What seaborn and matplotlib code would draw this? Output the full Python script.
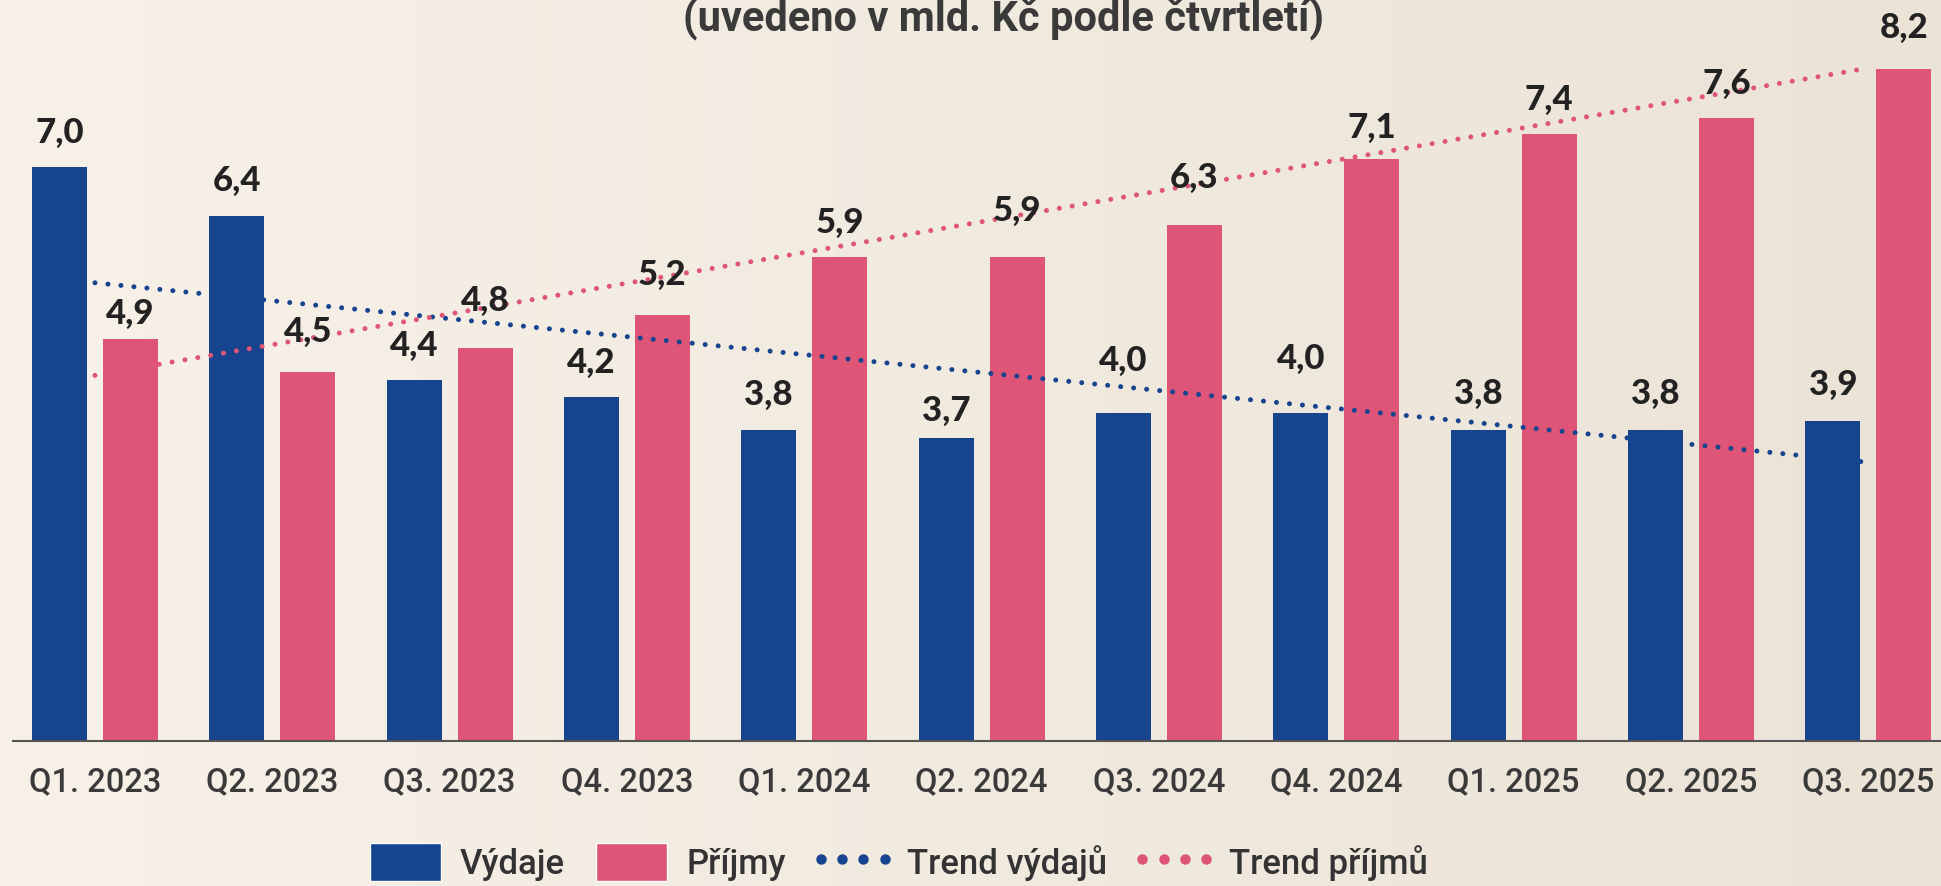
import numpy as np
import pandas as pd
import matplotlib.pyplot as plt
import seaborn as sns
from matplotlib.lines import Line2D
from matplotlib.patches import Patch
from matplotlib.legend_handler import HandlerLine2D
from matplotlib.colors import LinearSegmentedColormap

kvartaly = ["Q1. 2023", "Q2. 2023", "Q3. 2023", "Q4. 2023", "Q1. 2024", "Q2. 2024",
            "Q3. 2024", "Q4. 2024", "Q1. 2025", "Q2. 2025", "Q3. 2025"]
vydaje = [7.0, 6.4, 4.4, 4.2, 3.8, 3.7, 4.0, 4.0, 3.8, 3.8, 3.9]
prijmy = [4.9, 4.5, 4.8, 5.2, 5.9, 5.9, 6.3, 7.1, 7.4, 7.6, 8.2]
# trend lines (first and last quarter)
trend_vydaju = [5.59, 3.40]
trend_prijmu = [4.46, 8.21]

# label gap above each bar (pt), labels are nudged off the trend lines in the original
odsazeni_vydaje = [13, 14, 13, 13, 13, 8, 26, 27.5, 14, 14, 15]
odsazeni_prijmy = [7, 17.5, 22, 17, 13, 22, 22, 11, 13, 13, 18]

MODRA = "#17448e"
RUZOVA = "#de5577"
TEXT = "#333333"

sns.set_style("white")
plt.rcParams['font.family'] = ['Roboto', 'DejaVu Sans']

df = pd.DataFrame({
    "kvartal": kvartaly * 2,
    "hodnota": vydaje + prijmy,
    "rada": ["Výdaje"] * len(vydaje) + ["Příjmy"] * len(prijmy),
})

fig = plt.figure(figsize=(19.41, 8.86), dpi=100)

# beige background, slightly darker to the right
bg = fig.add_axes([0, 0, 1, 1], zorder=-10)
bg.imshow(np.linspace(0, 1, 256).reshape(1, -1), aspect='auto', extent=[0, 1, 0, 1],
          cmap=LinearSegmentedColormap.from_list('bg', ['#f7f1e8', '#ebe3d6']))
bg.axis('off')

ax = fig.add_axes([13 / 1941, 145 / 886, 1 - 13 / 1941, 741 / 886])
ax.set_facecolor('none')

sns.barplot(data=df, x="kvartal", y="hodnota", hue="rada", palette=[MODRA, RUZOVA],
            saturation=1, width=0.8, gap=0.225, errorbar=None, legend=False,
            linewidth=0, ax=ax)

# trends over the bars
konce = [0, len(kvartaly) - 1]
ax.plot(konce, trend_vydaju, color=MODRA, lw=3.6, ls=(0, (0.01, 2.6)),
        dash_capstyle='round', zorder=5)
ax.plot(konce, trend_prijmu, color=RUZOVA, lw=3.6, ls=(0, (0.01, 2.6)),
        dash_capstyle='round', zorder=5)

for cont, vals, pads in zip(ax.containers, [vydaje, prijmy], [odsazeni_vydaje, odsazeni_prijmy]):
    for bar, v, p in zip(cont, vals, pads):
        ax.annotate(f"{v:.1f}".replace(".", ","),
                    (bar.get_x() + bar.get_width() / 2, bar.get_height()),
                    xytext=(0, p), textcoords='offset points', ha='center', va='bottom',
                    fontsize=25, fontweight='black', color='#222222', family='Lato', zorder=6)

ax.set_xlim(-0.462, 10.41)
ax.set_ylim(0, 9.04)
ax.set_yticks([])
ax.set_xlabel("")
ax.set_ylabel("")
for s in ["left", "top", "right"]:
    ax.spines[s].set_visible(False)
ax.spines["bottom"].set_color("#555555")
ax.spines["bottom"].set_linewidth(1.5)
ax.tick_params(axis='x', length=0, pad=18, labelsize=23.5, labelcolor='#3a3a3a')
for t in ax.get_xticklabels():
    t.set_fontweight('medium')

fig.text(0.517, 0.964, "(uvedeno v mld. Kč podle čtvrtletí)", ha='center', va='baseline',
         fontsize=30, fontweight='bold', color='#3a3a3a')

handles = [
    Patch(facecolor=MODRA, label="Výdaje"),
    Patch(facecolor=RUZOVA, label="Příjmy"),
    Line2D([], [], ls='none', marker='o', ms=6.5, color=MODRA, label="Trend výdajů"),
    Line2D([], [], ls='none', marker='o', ms=6.5, color=RUZOVA, label="Trend příjmů"),
]
fig.legend(handles=handles, loc='center', bbox_to_anchor=(0.463, 0.027), ncol=4,
           frameon=False, handlelength=2.05, handleheight=1.27, handletextpad=0.55,
           columnspacing=0.9, numpoints=4, borderpad=0, labelcolor=TEXT,
           handler_map={Line2D: HandlerLine2D(marker_pad=0.1)},
           prop={'family': 'Roboto', 'weight': 'medium', 'size': 25})

fig.savefig("out.png", dpi=100)
